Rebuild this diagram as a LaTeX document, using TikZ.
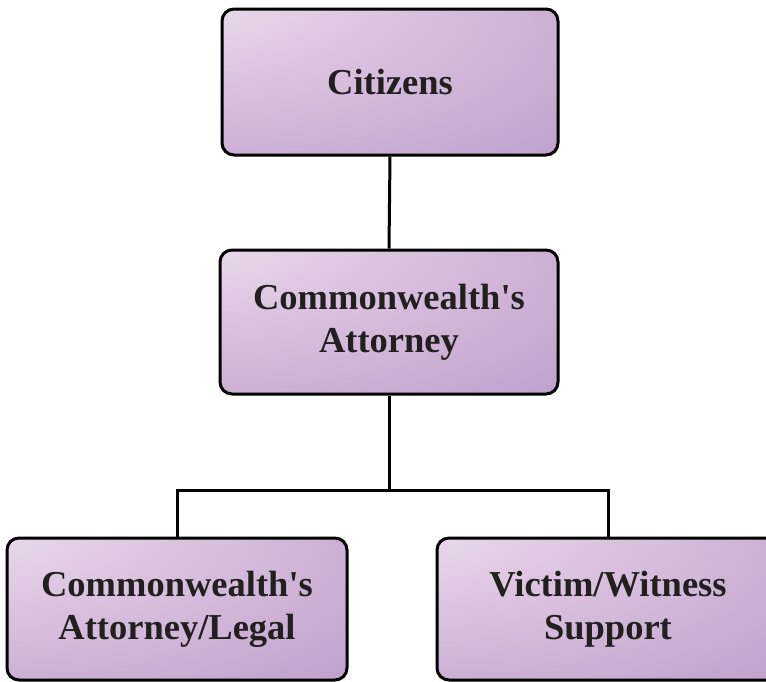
\documentclass[tikz,border=0pt]{standalone}
\usepackage{fontspec}
% family without TeX ligature mapping, so the apostrophe stays straight
\newfontfamily\orgfont{Liberation Serif}
\definecolor{shadeA}{HTML}{F7F0F6}
\definecolor{shadeB}{HTML}{DCC5E0}
\definecolor{shadeC}{HTML}{B594C6}
\definecolor{inkdark}{HTML}{231F20}
% soft purple glow that starts in the upper left corner of each box
\pgfdeclareradialshading{orgshade}{\pgfpoint{-45bp}{45bp}}{%
  color(0bp)=(shadeA);
  color(30bp)=(shadeB);
  color(72bp)=(shadeC);
  color(100bp)=(shadeC)}
\tikzset{
  orgbox/.style={draw=black, line width=3pt, rounded corners=12pt,
    shading=orgshade, text=inkdark, align=center,
    font=\orgfont\bfseries\fontsize{36.5}{43}\selectfont, inner sep=0pt},
  link/.style={draw=black, line width=3pt}
}
\begin{document}
\begin{tikzpicture}[x=1pt, y=-1pt]
  \useasboundingbox (0,0) rectangle (766,681);
  \node[orgbox, minimum width=336pt, minimum height=146pt] (cit) at (390,82) {Citizens};
  \node[orgbox, minimum width=338pt, minimum height=144pt] (ca) at (389,322) {Commonwealth's\\Attorney};
  \node[orgbox, minimum width=340pt, minimum height=142pt] (legal) at (177,609) {Commonwealth's\\Attorney/Legal};
  \node[orgbox, minimum width=342pt, minimum height=142pt] (vw) at (608,609) {Victim/Witness\\Support};
  \coordinate (split) at (389,490);
  \draw[link] (cit.south) -- (ca.north);
  \draw[link] (ca.south) -- (split);
  \draw[link] (legal.north) |- (split) -| (vw.north);
\end{tikzpicture}
\end{document}
